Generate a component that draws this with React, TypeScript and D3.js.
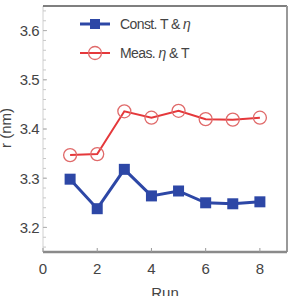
import React from "react";
import * as d3 from "d3";

const runs = [1, 2, 3, 4, 5, 6, 7, 8];
const constTEta = [3.298, 3.238, 3.318, 3.264, 3.274, 3.25, 3.248, 3.252];
const measEtaT = [3.347, 3.349, 3.436, 3.423, 3.437, 3.42, 3.419, 3.423];
const xTicks = [0, 2, 4, 6, 8];
const yTicks = [3.2, 3.3, 3.4, 3.5, 3.6];

const W = 290;
const H = 296;
const left = 43;
const right = 287;
const top = 6;
const bottom = 252;

export default function App() {
  const x = d3.scaleLinear().domain([0, 9]).range([left, right]);
  const y = d3.scaleLinear().domain([3.15, 3.65]).range([bottom, top]);
  const line = d3
    .line<number>()
    .x((_, i) => x(runs[i]))
    .y((d) => y(d));
  const minor = d3.range(3.16, 3.65, 0.02);
  const font = "'Liberation Sans', Arial, sans-serif";
  const blue = "#2d47a6";
  const red = "#e5383b";
  const sq = 11;

  return (
    <svg
      width={W}
      height={H}
      style={{ position: "absolute", left: 0, top: 0, background: "#fff" }}
      fontFamily={font}
    >
      {/* left axis with minor ticks */}
      <line x1={left} x2={left} y1={top} y2={bottom} stroke="#d0d0d0" strokeWidth={1} />
      {minor.map((v) => (
        <line key={v} x1={left} x2={left + 3} y1={y(v)} y2={y(v)} stroke="#c8c8c8" strokeWidth={1} />
      ))}
      {yTicks.map((v) => (
        <g key={v}>
          <line x1={left} x2={left + 4} y1={y(v)} y2={y(v)} stroke="#b0b0b0" strokeWidth={1} />
          <text x={left - 4} y={y(v)} dy="0.36em" textAnchor="end" fontSize={15} fill="#444" letterSpacing={-0.5}>
            {v.toFixed(1)}
          </text>
        </g>
      ))}
      {/* frame */}
      <line x1={left} x2={right} y1={top} y2={top} stroke="#555" strokeWidth={1.5} />
      <line x1={right} x2={right} y1={top} y2={bottom} stroke="#999" strokeWidth={2} />
      <line x1={left} x2={right} y1={bottom} y2={bottom} stroke="#8a8a8a" strokeWidth={2.5} />
      {xTicks.map((v) => (
        <g key={v}>
          <line x1={x(v)} x2={x(v)} y1={bottom} y2={bottom - 4} stroke="#999" strokeWidth={1} />
          <text x={x(v)} y={274} textAnchor="middle" fontSize={15} fill="#444">
            {v}
          </text>
        </g>
      ))}
      {/* axis titles */}
      <text x={300 / 2 + 15} y={298} textAnchor="middle" fontSize={15} fill="#444">
        Run
      </text>
      <text
        transform={`translate(11,128) rotate(-90)`}
        textAnchor="middle"
        fontSize={15}
        fill="#444"
      >
        r (nm)
      </text>

      {/* series */}
      <path d={line(measEtaT) ?? ""} fill="none" stroke={red} strokeWidth={2} />
      {measEtaT.map((v, i) => (
        <circle key={i} cx={x(runs[i])} cy={y(v)} r={6.5} fill="none" stroke="#e06a6a" strokeWidth={1.3} />
      ))}
      <path d={line(constTEta) ?? ""} fill="none" stroke={blue} strokeWidth={3} />
      {constTEta.map((v, i) => (
        <rect key={i} x={x(runs[i]) - sq / 2} y={y(v) - sq / 2} width={sq} height={sq} fill={blue} />
      ))}

      {/* legend */}
      <line x1={80} x2={110} y1={24} y2={24} stroke={blue} strokeWidth={3} />
      <rect x={95 - 5} y={24 - 5} width={10} height={10} fill={blue} />
      <text x={120} y={29} fontSize={14} fill="#444" letterSpacing={-0.6}>
        Const. T &amp; <tspan fontStyle="italic">η</tspan>
      </text>
      <line x1={80} x2={110} y1={53} y2={53} stroke={red} strokeWidth={2} />
      <circle cx={95} cy={53} r={6.5} fill="none" stroke="#e06a6a" strokeWidth={1.3} />
      <text x={120} y={58} fontSize={14} fill="#444" letterSpacing={-0.6}>
        Meas. <tspan fontStyle="italic">η</tspan> &amp; T
      </text>
    </svg>
  );
}
